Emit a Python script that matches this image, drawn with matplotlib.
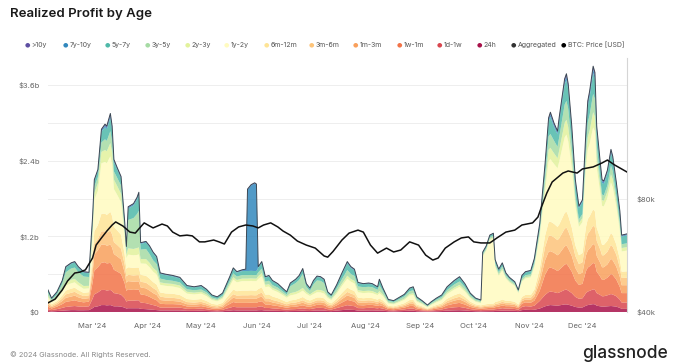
import matplotlib
matplotlib.use("Agg")
import matplotlib.pyplot as plt
import numpy as np
import pandas as pd

# ---------------- data ----------------
dates = [
    "2024-02-05", "2024-02-07", "2024-02-10", "2024-02-13", "2024-02-15", "2024-02-18", "2024-02-20", "2024-02-22", "2024-02-25", "2024-02-28",
    "2024-03-01", "2024-03-02", "2024-03-04", "2024-03-06", "2024-03-08", "2024-03-09", "2024-03-11", "2024-03-12", "2024-03-13", "2024-03-15",
    "2024-03-17", "2024-03-19", "2024-03-20", "2024-03-21", "2024-03-24", "2024-03-26", "2024-03-27", "2024-03-28", "2024-03-31", "2024-04-02",
    "2024-04-04", "2024-04-06", "2024-04-08", "2024-04-11", "2024-04-15", "2024-04-19", "2024-04-23", "2024-04-27", "2024-05-01", "2024-05-04",
    "2024-05-07", "2024-05-10", "2024-05-13", "2024-05-15", "2024-05-17", "2024-05-19", "2024-05-21", "2024-05-24", "2024-05-26", "2024-05-27",
    "2024-05-29", "2024-05-31", "2024-06-01", "2024-06-02", "2024-06-04", "2024-06-06", "2024-06-08", "2024-06-10", "2024-06-13", "2024-06-16",
    "2024-06-18", "2024-06-20", "2024-06-23", "2024-06-25", "2024-06-27", "2024-06-29", "2024-07-01", "2024-07-03", "2024-07-05", "2024-07-07",
    "2024-07-09", "2024-07-11", "2024-07-13", "2024-07-16", "2024-07-19", "2024-07-22", "2024-07-24", "2024-07-26", "2024-07-28", "2024-07-31",
    "2024-08-03", "2024-08-05", "2024-08-08", "2024-08-09", "2024-08-11", "2024-08-14", "2024-08-17", "2024-08-20", "2024-08-23", "2024-08-26",
    "2024-08-28", "2024-08-30", "2024-09-02", "2024-09-05", "2024-09-07", "2024-09-10", "2024-09-13", "2024-09-16", "2024-09-20", "2024-09-23",
    "2024-09-26", "2024-09-29", "2024-10-02", "2024-10-05", "2024-10-06", "2024-10-08", "2024-10-10", "2024-10-12", "2024-10-13", "2024-10-15",
    "2024-10-17", "2024-10-19", "2024-10-21", "2024-10-24", "2024-10-26", "2024-10-28", "2024-10-30", "2024-11-02", "2024-11-04", "2024-11-07",
    "2024-11-10", "2024-11-12", "2024-11-13", "2024-11-15", "2024-11-17", "2024-11-18", "2024-11-21", "2024-11-22", "2024-11-23", "2024-11-25",
    "2024-11-27", "2024-11-29", "2024-12-01", "2024-12-03", "2024-12-04", "2024-12-05", "2024-12-07", "2024-12-08", "2024-12-09", "2024-12-11",
    "2024-12-12", "2024-12-13", "2024-12-15", "2024-12-17", "2024-12-18", "2024-12-20", "2024-12-22", "2024-12-23", "2024-12-26",
]

# realized profit per age band, in $M
s_24h = [
    15, 10, 15, 20, 25, 30, 30, 28, 28, 30,
    60, 80, 90, 110, 110, 105, 110, 100, 90, 90,
    85, 70, 55, 60, 60, 60, 60, 50, 45, 40,
    35, 30, 25, 25, 25, 25, 18, 18, 20, 16,
    12, 10, 12, 18, 22, 28, 25, 25, 25, 25,
    25, 25, 25, 28, 30, 22, 22, 20, 18, 15,
    13, 15, 16, 18, 20, 17, 16, 20, 24, 24,
    22, 16, 14, 22, 30, 38, 35, 32, 22, 22,
    24, 25, 22, 24, 20, 12, 10, 13, 16, 20,
    20, 13, 10, 7, 9, 12, 15, 22, 26, 28,
    24, 17, 13, 11, 12, 13, 14, 14, 16, 18,
    22, 20, 20, 18, 14, 30, 35, 32, 35, 55,
    90, 105, 110, 105, 100, 105, 120, 120, 115, 100,
    80, 70, 72, 100, 110, 115, 125, 120, 100, 90,
    85, 85, 90, 95, 92, 85, 65, 50, 50,
]
s_1d_1w = [
    30, 20, 30, 45, 55, 60, 65, 60, 55, 60,
    150, 200, 220, 240, 240, 235, 240, 230, 210, 200,
    190, 150, 110, 120, 120, 125, 125, 100, 95, 85,
    75, 65, 45, 45, 45, 45, 32, 30, 35, 28,
    20, 18, 22, 35, 45, 55, 50, 50, 50, 50,
    50, 50, 50, 55, 60, 42, 42, 38, 34, 28,
    25, 28, 30, 34, 38, 32, 30, 36, 42, 42,
    40, 28, 24, 40, 55, 70, 65, 60, 40, 38,
    42, 42, 36, 40, 34, 18, 16, 20, 25, 35,
    35, 21, 16, 10, 14, 20, 25, 38, 48, 52,
    42, 29, 22, 19, 20, 22, 24, 24, 28, 32,
    38, 34, 34, 30, 22, 50, 58, 55, 65, 120,
    180, 210, 215, 210, 200, 205, 230, 235, 225, 200,
    160, 140, 145, 200, 215, 220, 235, 230, 200, 180,
    165, 165, 175, 190, 185, 165, 130, 100, 100,
]
s_1w_1m = [
    40, 25, 40, 60, 80, 85, 90, 80, 70, 75,
    250, 380, 400, 430, 440, 430, 430, 410, 370, 350,
    330, 240, 170, 180, 170, 170, 170, 130, 125, 115,
    100, 90, 60, 55, 55, 50, 38, 35, 38, 32,
    24, 22, 28, 45, 60, 75, 70, 70, 70, 70,
    72, 70, 70, 75, 80, 55, 55, 48, 42, 35,
    30, 35, 38, 42, 48, 40, 36, 42, 48, 48,
    45, 32, 27, 42, 65, 85, 78, 72, 48, 45,
    48, 45, 40, 44, 38, 20, 18, 23, 28, 40,
    42, 25, 18, 11, 16, 23, 28, 45, 58, 65,
    52, 35, 26, 22, 23, 25, 27, 27, 32, 36,
    42, 38, 38, 34, 25, 52, 60, 60, 80, 160,
    320, 380, 380, 370, 350, 360, 400, 410, 390, 340,
    260, 220, 230, 350, 380, 390, 420, 410, 340, 290,
    260, 260, 280, 320, 310, 265, 200, 150, 150,
]
s_1m_3m = [
    35, 22, 32, 50, 65, 70, 75, 65, 55, 55,
    150, 250, 270, 290, 280, 280, 290, 280, 250, 240,
    230, 170, 130, 130, 130, 130, 130, 110, 110, 100,
    90, 85, 60, 55, 50, 45, 35, 33, 35, 30,
    22, 20, 25, 40, 55, 70, 65, 65, 65, 65,
    66, 65, 65, 70, 75, 52, 52, 45, 40, 33,
    28, 33, 35, 38, 42, 36, 32, 36, 40, 40,
    38, 28, 24, 35, 55, 70, 65, 60, 42, 40,
    40, 38, 34, 38, 32, 17, 16, 20, 24, 33,
    35, 21, 16, 10, 14, 19, 24, 38, 48, 55,
    44, 30, 22, 19, 20, 22, 24, 24, 28, 30,
    34, 30, 30, 28, 20, 40, 45, 46, 65, 140,
    230, 260, 260, 255, 250, 255, 290, 290, 280, 250,
    200, 170, 178, 250, 270, 280, 300, 295, 250, 220,
    200, 200, 210, 240, 232, 205, 160, 125, 125,
]
s_3m_6m = [
    30, 20, 25, 40, 55, 60, 60, 55, 45, 45,
    120, 170, 180, 210, 210, 210, 220, 210, 190, 180,
    170, 130, 100, 100, 100, 100, 100, 90, 90, 85,
    80, 75, 55, 50, 50, 45, 35, 33, 33, 30,
    22, 20, 25, 35, 45, 55, 50, 55, 55, 55,
    55, 55, 55, 58, 62, 45, 45, 40, 36, 30,
    26, 30, 32, 34, 38, 32, 28, 30, 32, 32,
    30, 24, 20, 30, 42, 55, 50, 48, 35, 33,
    32, 30, 28, 30, 26, 14, 13, 16, 20, 27,
    28, 17, 13, 8, 12, 16, 20, 30, 38, 42,
    35, 24, 17, 15, 16, 17, 18, 18, 22, 24,
    26, 24, 24, 22, 16, 30, 33, 34, 50, 100,
    210, 250, 250, 245, 240, 245, 280, 285, 275, 240,
    190, 160, 165, 240, 265, 270, 290, 285, 240, 210,
    190, 190, 200, 220, 215, 190, 150, 115, 118,
]
s_6m_12m = [
    35, 25, 30, 45, 60, 65, 65, 60, 50, 50,
    140, 200, 220, 280, 280, 280, 300, 290, 240, 230,
    220, 160, 120, 120, 120, 120, 120, 110, 110, 105,
    95, 90, 65, 65, 65, 60, 48, 45, 45, 40,
    30, 27, 33, 45, 60, 75, 70, 75, 75, 75,
    75, 75, 75, 78, 85, 60, 62, 55, 50, 42,
    36, 42, 45, 48, 52, 45, 40, 42, 45, 45,
    42, 33, 28, 40, 55, 70, 63, 60, 42, 40,
    40, 40, 36, 40, 34, 18, 17, 21, 26, 35,
    37, 22, 17, 10, 15, 21, 26, 38, 48, 55,
    44, 30, 22, 19, 22, 24, 25, 26, 32, 34,
    36, 33, 32, 30, 22, 38, 40, 42, 60, 110,
    180, 220, 220, 215, 210, 220, 250, 255, 245, 210,
    170, 140, 145, 210, 235, 240, 260, 255, 210, 180,
    165, 165, 175, 190, 185, 160, 130, 100, 102,
]
s_1y_2y = [
    45, 30, 40, 60, 80, 85, 85, 75, 65, 60,
    320, 500, 540, 800, 820, 820, 880, 820, 600, 560,
    520, 280, 170, 200, 200, 200, 210, 180, 190, 180,
    165, 160, 120, 120, 115, 110, 85, 85, 85, 75,
    58, 52, 65, 90, 120, 155, 140, 150, 150, 150,
    150, 150, 150, 160, 175, 120, 125, 105, 95, 78,
    68, 80, 85, 90, 100, 85, 72, 78, 82, 80,
    75, 60, 52, 80, 110, 140, 125, 120, 85, 82,
    80, 80, 72, 82, 68, 36, 32, 42, 52, 70,
    74, 45, 34, 20, 30, 42, 50, 72, 90, 100,
    82, 55, 40, 35, 770, 850, 1010, 1030, 560, 400,
    460, 350, 290, 250, 180, 240, 260, 280, 360, 520,
    700, 970, 990, 950, 930, 1000, 1200, 1220, 1180, 950,
    620, 450, 490, 950, 1100, 1150, 1300, 1270, 950, 720,
    620, 610, 680, 800, 760, 600, 450, 320, 330,
]
s_2y_3y = [
    25, 15, 20, 35, 50, 55, 55, 50, 45, 40,
    80, 110, 120, 180, 190, 190, 210, 190, 150, 140,
    130, 70, 50, 100, 100, 110, 110, 70, 75, 70,
    60, 55, 40, 40, 40, 40, 30, 28, 28, 25,
    18, 16, 20, 28, 35, 40, 38, 40, 40, 40,
    40, 40, 40, 45, 50, 35, 38, 32, 30, 25,
    22, 35, 38, 40, 45, 32, 25, 35, 38, 38,
    36, 22, 18, 28, 38, 48, 42, 42, 32, 32,
    32, 32, 28, 35, 26, 14, 12, 16, 19, 25,
    26, 16, 12, 7, 11, 15, 18, 25, 30, 33,
    27, 18, 13, 12, 15, 17, 18, 19, 22, 22,
    25, 20, 18, 16, 12, 18, 20, 20, 25, 40,
    120, 180, 180, 170, 160, 180, 230, 235, 225, 170,
    90, 60, 65, 160, 200, 210, 240, 235, 170, 110,
    90, 90, 100, 130, 125, 90, 70, 55, 55,
]
s_3y_5y = [
    50, 28, 45, 90, 160, 180, 180, 160, 150, 140,
    120, 100, 100, 150, 170, 165, 190, 170, 130, 130,
    130, 80, 60, 450, 490, 540, 580, 150, 160, 140,
    120, 110, 60, 55, 50, 50, 40, 38, 38, 35,
    25, 22, 28, 40, 50, 60, 55, 55, 55, 55,
    55, 55, 55, 60, 70, 50, 55, 45, 42, 35,
    30, 110, 140, 165, 220, 80, 55, 120, 150, 145,
    130, 40, 33, 55, 70, 90, 80, 78, 60, 62,
    62, 62, 55, 90, 52, 26, 24, 30, 36, 45,
    48, 30, 22, 13, 19, 26, 30, 40, 50, 55,
    45, 30, 22, 19, 22, 25, 26, 28, 35, 35,
    40, 33, 30, 25, 18, 30, 32, 32, 40, 55,
    120, 210, 220, 200, 180, 210, 290, 300, 290, 190,
    100, 60, 65, 170, 230, 250, 290, 280, 190, 110,
    90, 85, 100, 140, 130, 90, 70, 60, 60,
]
s_5y_7y = [
    35, 20, 35, 45, 75, 75, 80, 72, 62, 60,
    90, 90, 100, 170, 190, 185, 210, 190, 150, 130,
    120, 80, 60, 180, 200, 230, 255, 90, 100, 110,
    110, 100, 75, 75, 70, 65, 48, 45, 50, 40,
    32, 27, 34, 45, 55, 70, 62, 65, 65, 65,
    65, 65, 65, 75, 95, 65, 70, 60, 52, 40,
    34, 42, 50, 58, 70, 42, 35, 48, 55, 52,
    48, 30, 25, 48, 82, 110, 95, 88, 52, 46,
    48, 45, 40, 82, 40, 20, 18, 24, 28, 42,
    46, 25, 18, 11, 16, 21, 28, 40, 50, 60,
    45, 25, 18, 15, 22, 27, 26, 30, 40, 38,
    45, 28, 24, 20, 15, 40, 45, 47, 55, 80,
    150, 235, 270, 220, 200, 260, 320, 330, 310, 240,
    180, 180, 190, 210, 265, 280, 330, 320, 240, 210,
    185, 180, 190, 200, 185, 165, 140, 120, 125,
]
s_7y_10y = [
    7, 3, 5, 7, 10, 10, 10, 10, 10, 10,
    12, 12, 12, 25, 30, 30, 40, 35, 25, 20,
    15, 12, 10, 20, 20, 25, 30, 15, 15, 15,
    15, 15, 10, 10, 10, 10, 8, 7, 8, 6,
    5, 4, 5, 6, 8, 10, 10, 12, 22, 1290,
    1357, 1390, 1370, 10, 12, 9, 9, 8, 7, 6,
    5, 6, 7, 8, 10, 6, 7, 8, 9, 9,
    9, 5, 3, 6, 10, 14, 12, 12, 8, 7,
    7, 7, 6, 10, 6, 3, 3, 3, 4, 5,
    6, 3, 3, 2, 3, 3, 4, 8, 9, 10,
    7, 5, 3, 3, 5, 5, 5, 6, 10, 8,
    8, 6, 6, 5, 4, 7, 7, 8, 10, 12,
    30, 35, 45, 35, 30, 35, 50, 55, 50, 35,
    30, 20, 22, 35, 45, 55, 60, 55, 35, 30,
    30, 30, 30, 35, 32, 28, 22, 15, 15,
]
s_gt10y = [
    3, 2, 3, 3, 5, 5, 5, 5, 5, 5,
    8, 8, 8, 15, 20, 20, 30, 25, 15, 10,
    10, 8, 5, 10, 10, 10, 10, 5, 5, 5,
    5, 5, 5, 5, 5, 5, 3, 3, 5, 3,
    2, 2, 3, 3, 5, 7, 5, 8, 8, 10,
    10, 10, 10, 6, 6, 5, 5, 4, 4, 3,
    3, 4, 4, 5, 7, 3, 4, 5, 5, 5,
    5, 2, 2, 4, 8, 10, 10, 8, 4, 3,
    5, 4, 3, 5, 4, 2, 1, 2, 2, 3,
    3, 2, 1, 1, 1, 2, 2, 4, 5, 5,
    3, 2, 2, 1, 3, 3, 3, 4, 5, 3,
    4, 4, 4, 2, 2, 5, 5, 4, 5, 8,
    20, 25, 30, 25, 20, 25, 40, 45, 35, 25,
    20, 10, 13, 25, 35, 40, 50, 45, 25, 20,
    20, 20, 20, 20, 19, 17, 13, 10, 10,
]

price_dates = [
    "2024-02-05", "2024-02-09", "2024-02-13", "2024-02-16", "2024-02-20", "2024-02-23", "2024-02-26",
    "2024-03-01", "2024-03-03", "2024-03-06", "2024-03-09", "2024-03-12", "2024-03-14", "2024-03-18",
    "2024-03-22", "2024-03-25", "2024-03-27", "2024-03-30", "2024-04-02", "2024-04-04", "2024-04-09",
    "2024-04-12", "2024-04-15", "2024-04-19", "2024-04-23", "2024-04-26", "2024-04-30", "2024-05-03",
    "2024-05-08", "2024-05-11", "2024-05-14", "2024-05-18", "2024-05-22", "2024-05-26", "2024-05-30",
    "2024-06-02", "2024-06-05", "2024-06-09", "2024-06-13", "2024-06-16", "2024-06-20", "2024-06-24",
    "2024-06-29", "2024-07-04", "2024-07-09", "2024-07-11", "2024-07-14", "2024-07-19", "2024-07-23",
    "2024-07-28", "2024-07-31", "2024-08-04", "2024-08-08", "2024-08-13", "2024-08-17", "2024-08-21",
    "2024-08-26", "2024-08-31", "2024-09-04", "2024-09-08", "2024-09-11", "2024-09-15", "2024-09-20",
    "2024-09-24", "2024-09-28", "2024-10-01", "2024-10-05", "2024-10-10", "2024-10-14", "2024-10-19",
    "2024-10-24", "2024-10-28", "2024-11-03", "2024-11-06", "2024-11-08", "2024-11-11", "2024-11-14",
    "2024-11-20", "2024-11-23", "2024-11-28", "2024-12-01", "2024-12-07", "2024-12-12", "2024-12-15",
    "2024-12-19", "2024-12-26",
]
price_k = [
    42.3, 43.3, 45.8, 48.4, 50.8, 51.1, 51.8,
    55.7, 60.3, 63.0, 65.7, 68.2, 69.5, 67.8,
    65.3, 64.9, 66.6, 69.1, 67.8, 67.0, 68.6,
    67.8, 65.3, 63.8, 64.1, 63.8, 61.5, 61.5,
    62.2, 61.5, 60.7, 65.3, 67.4, 68.2, 67.8,
    67.0, 68.2, 69.1, 67.4, 65.7, 64.1, 61.8,
    60.3, 59.2, 56.4, 56.0, 58.0, 62.2, 64.9,
    66.1, 65.3, 60.3, 57.4, 59.2, 57.8, 58.5,
    61.5, 60.3, 56.7, 55.0, 55.7, 59.2, 61.5,
    63.0, 63.4, 61.5, 61.1, 61.1, 63.0, 65.3,
    66.1, 68.2, 69.1, 71.6, 76.2, 83.0, 88.8,
    93.8, 95.0, 93.8, 96.2, 97.4, 99.8, 101.6,
    98.6, 94.4,
]

band_labels = [">10y", "7y-10y", "5y-7y", "3y-5y", "2y-3y", "1y-2y", "6m-12m",
               "3m-6m", "1m-3m", "1w-1m", "1d-1w", "24h"]
tick_dates = ["2024-03-01", "2024-04-01", "2024-05-01", "2024-06-01", "2024-07-01",
              "2024-08-01", "2024-09-01", "2024-10-01", "2024-11-01", "2024-12-01"]
tick_labels = ["Mar '24", "Apr '24", "May '24", "Jun '24", "Jul '24",
               "Aug '24", "Sep '24", "Oct '24", "Nov '24", "Dec '24"]
left_ticks = [0, 1200, 2400, 3600]
left_labels = ["$0", "$1.2b", "$2.4b", "$3.6b"]
right_ticks = [40000, 80000]
right_labels = ["$40k", "$80k"]

# ---------------- style ----------------
band_colors = {
    ">10y": "#5e4fa2", "7y-10y": "#3288bd", "5y-7y": "#4fb9a9", "3y-5y": "#a6dba4",
    "2y-3y": "#e2f29c", "1y-2y": "#fffbc0", "6m-12m": "#fee496", "3m-6m": "#fdc47a",
    "1m-3m": "#f9a05c", "1w-1m": "#f27348", "1d-1w": "#d9474f", "24h": "#a8124a",
}
plt.rcParams["font.family"] = ["Inter", "DejaVu Sans"]

fig = plt.figure(figsize=(6.75, 3.64), dpi=100)
W, H = 675.0, 364.0
ax = fig.add_axes([48 / W, 1 - 312 / H, (627 - 48) / W, (312 - 58) / H])

x = pd.to_datetime(dates)
stack_order = [s_24h, s_1d_1w, s_1w_1m, s_1m_3m, s_3m_6m, s_6m_12m,
               s_1y_2y, s_2y_3y, s_3y_5y, s_5y_7y, s_7y_10y, s_gt10y]
stack_names = ["24h", "1d-1w", "1w-1m", "1m-3m", "3m-6m", "6m-12m",
               "1y-2y", "2y-3y", "3y-5y", "5y-7y", "7y-10y", ">10y"]
for s in stack_order:
    assert len(s) == len(dates)
vals = np.array(stack_order, dtype=float)
ax.stackplot(x, vals, colors=[band_colors[n] for n in stack_names],
             alpha=0.85, linewidth=0, zorder=2)
ax.plot(x, vals.sum(axis=0), color="#3b4753", lw=0.7, zorder=3)

ax.set_xlim(x[0], x[-1])
ax.set_ylim(0, 4030)
ax.set_yticks(left_ticks)
ax.set_yticklabels(left_labels)
ax.set_yticks([600, 1800, 3000], minor=True)
ax.yaxis.grid(True, which="both", color="#eeeeee", lw=0.7, zorder=0)
ax.set_axisbelow(True)
ax.set_xticks(pd.to_datetime(tick_dates))
ax.set_xticklabels(tick_labels)
ax.tick_params(axis="both", which="both", length=0, labelsize=5.5, labelcolor="#666666")
ax.tick_params(axis="y", pad=6)
ax.tick_params(axis="x", pad=8)
for sp in ax.spines.values():
    sp.set_visible(False)

ax2 = ax.twinx()
ax2.set_yscale("log")
ax2.set_ylim(40000, 40000 * 2 ** (254 / 113))
ax2.plot(pd.to_datetime(price_dates), np.array(price_k) * 1000, color="#111111", lw=1.1, zorder=4)
ax2.set_yticks(right_ticks)
ax2.set_yticklabels(right_labels)
ax2.yaxis.set_minor_locator(matplotlib.ticker.NullLocator())
ax2.tick_params(axis="y", which="both", length=0, labelsize=5.5, labelcolor="#666666", pad=7)
for k, sp in ax2.spines.items():
    sp.set_visible(k == "right")
ax2.spines["right"].set_color("#d5d5d5")
ax2.spines["right"].set_linewidth(0.8)

# ---------------- texts ----------------
fig.text(10 / W, 1 - 14 / H, "Realized Profit by Age", fontsize=9.5, fontweight="semibold",
         color="#1a1a1a", ha="left", va="center")

legend_items = band_labels + ["Aggregated", "BTC: Price [USD]"]
legend_colors = [band_colors[n] for n in band_labels] + ["#333333", "#000000"]
legend_x = [27, 65, 107, 147, 187, 226, 266, 311, 355, 399, 439, 479, 513, 563]
ly = 1 - 45 / H
for lbl, c, lx in zip(legend_items, legend_colors, legend_x):
    fig.text(lx / W, ly, "\u25CF", fontsize=4.5, color=c, ha="center", va="center",
             family="DejaVu Sans")
    fig.text((lx + 4.5) / W, ly, lbl, fontsize=5, color="#555555", ha="left", va="center")

fig.text(10 / W, 1 - 355 / H, "\u00A9 2024 Glassnode. All Rights Reserved.", fontsize=5.3,
         color="#888888", ha="left", va="center")
fig.text(668 / W, 1 - 354 / H, "glassnode", fontsize=12.5, color="#222222",
         ha="right", va="center", fontweight="medium")

fig.savefig("out.png", dpi=100)
